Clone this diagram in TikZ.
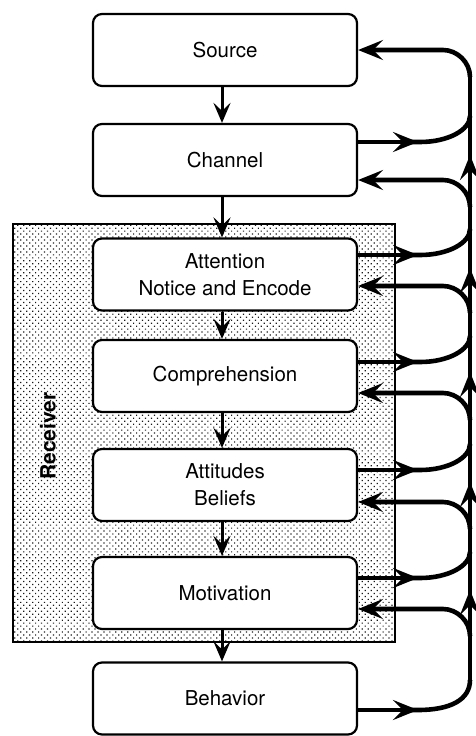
\documentclass[tikz,border=0pt]{standalone}
\usepackage{fontspec}
\setmainfont{TeX Gyre Heros}
\usetikzlibrary{arrows.meta,patterns.meta}
\begin{document}
\begin{tikzpicture}[x=1pt,y=-1pt,
  box/.style={draw, line width=2.2pt, rounded corners=9pt, fill=white,
    minimum width=264pt, minimum height=72pt, align=center, inner sep=0pt,
    font=\fontsize{20.5}{27}\selectfont},
  down/.style={line width=3pt, -{Stealth[length=20pt,width=17pt,inset=8pt]}},
  fb/.style={line width=4.6pt},
  fbarrow/.style={line width=4.6pt, -{Stealth[length=25pt,width=20pt,inset=10pt]}},
  recv/.style={draw, line width=2.2pt, pattern={Dots[distance=4.2pt,radius=0.85pt,angle=45]},
    pattern color=black!90, minimum width=382pt, minimum height=418pt, inner sep=0pt}
]
\useasboundingbox (0,0) rectangle (476,736);
\node[recv] (receiver) at (204,433) {};
\node[rotate=90, font=\bfseries\fontsize{21}{25}\selectfont] (rlabel) at (48,436) {Receiver};

\node[box] (src) at (225,50) {Source};
\node[box] (chn) at (225,160) {Channel};
\node[box] (att) at (225,274.5) {Attention\\Notice and Encode};
\node[box] (cmp) at (225,376) {Comprehension};
\node[box] (atd) at (225,485) {Attitudes\\Beliefs};
\node[box] (mot) at (225,593) {Motivation};
\node[box] (beh) at (225,698.5) {Behavior};

\foreach \a/\b in {src/chn, chn/att, att/cmp, cmp/atd, atd/mot, mot/beh}
  \draw[down] ([xshift=-3pt]\a.south) -- ([xshift=-3pt]\b.north);

% vertical return line
\coordinate (ltop) at (470,77);
\coordinate (lbot) at (470,680);
\draw[fb] (ltop) -- (lbot);
\foreach \t in {155,268,372,482,590}
  \draw[fbarrow] (470,\t+14) -- (470,\t);

% inputs
\foreach \n/\y in {src/50, chn/180, att/286, cmp/393, atd/502, mot/609}
  \draw[fbarrow] (470,\y+27) .. controls (470,\y+12) and (457,\y) .. (443,\y) -- (\n.east |- 0,\y);

% outputs
\foreach \n/\y in {chn/142, att/255, cmp/362, atd/470, mot/578}{
  \draw[fbarrow] (\n.east |- 0,\y) -- (418,\y);
  \draw[fb] (410,\y) -- (420,\y) .. controls (448,\y) and (470,\y-12) .. (470,\y-26);
}
\draw[fbarrow] (beh.east |- 0,710) -- (418,710);
\draw[fb] (410,710) -- (418,710) .. controls (450,710) and (470,700) .. (lbot);
\end{tikzpicture}
\end{document}
